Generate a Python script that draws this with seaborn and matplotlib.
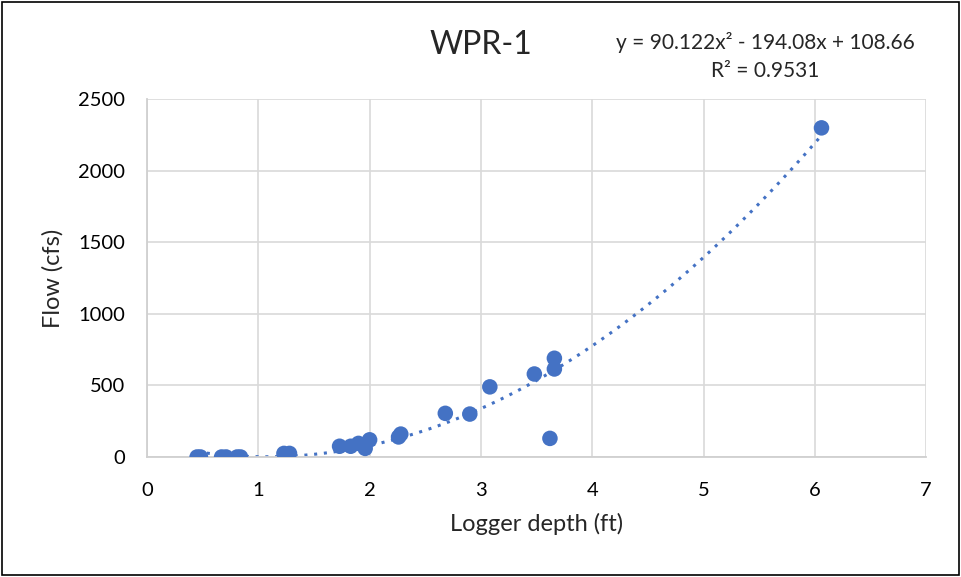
import numpy as np
import pandas as pd
import matplotlib
matplotlib.use("Agg")
import matplotlib.pyplot as plt
import seaborn as sns
from matplotlib.patches import Rectangle

depth = [0.45, 0.48, 0.67, 0.71, 0.81, 0.84, 1.23, 1.28,
         1.73, 1.83, 1.90, 1.96, 2.00, 2.26, 2.28,
         2.68, 2.90, 3.08, 3.48, 3.62, 3.66, 3.66, 6.06]
flow = [0, 0, 0, 0, 0, 0, 25, 25,
        75, 75, 95, 60, 120, 140, 160,
        305, 300, 490, 580, 130, 615, 690, 2300]

title = "WPR-1"
eq_text = "y = 90.122x² - 194.08x + 108.66"
r2_text = "R² = 0.9531"

df = pd.DataFrame({"depth": depth, "flow": flow})

sns.set_theme(style="whitegrid")
plt.rcParams["font.family"] = ["Lato", "DejaVu Sans"]

blue = "#4472C4"

fig = plt.figure(figsize=(9.61, 5.77), dpi=100)
ax = fig.add_axes([0.153, 0.208, 0.8107, 0.620])

# quadratic trendline (dotted) + the points
sns.regplot(data=df, x="depth", y="flow", order=2, ci=None, ax=ax,
            scatter=False, truncate=True,
            line_kws={"color": blue, "linestyle": (0, (1, 2.2)), "linewidth": 2.2})
sns.scatterplot(data=df, x="depth", y="flow", ax=ax, color=blue, s=125,
                edgecolor="none", zorder=3)

ax.set_xlim(0, 7)
ax.set_ylim(0, 2500)
ax.set_xticks(range(0, 8))
ax.set_yticks(range(0, 2501, 500))
ax.grid(True, color="#d9d9d9", linewidth=1.2)
for side in ["top", "right"]:
    ax.spines[side].set_visible(False)
for side in ["bottom", "left"]:
    ax.spines[side].set_color("#d0d0d0")
    ax.spines[side].set_linewidth(1.3)
ax.tick_params(axis="both", labelsize=14.5, colors="#000000", length=0)
ax.tick_params(axis="y", pad=16)
ax.tick_params(axis="x", pad=18)
ax.set_facecolor("white")

ax.set_xlabel("Logger depth (ft)", fontsize=17, labelpad=10)
ax.set_ylabel("Flow (cfs)", fontsize=17, labelpad=10)

fig.text(0.50, 0.922, title, fontsize=23, ha="center", va="center")
fig.text(0.796, 0.927, eq_text, fontsize=15, ha="center", va="center")
fig.text(0.796, 0.877, r2_text, fontsize=15, ha="center", va="center")

# outer border of the chart box
fig.patches.append(Rectangle((0.002, 0.003), 0.996, 0.994, transform=fig.transFigure,
                             fill=False, edgecolor="black", linewidth=1.2))

fig.savefig("out.png", dpi=100)
